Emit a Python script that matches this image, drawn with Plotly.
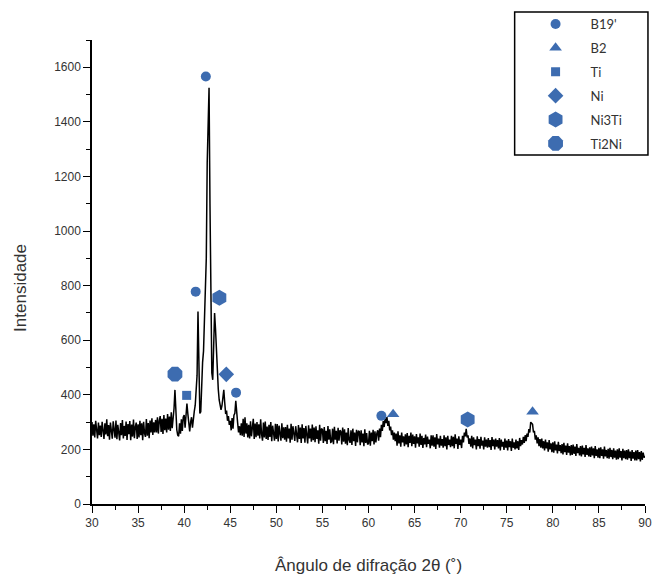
import numpy as np
import plotly.graph_objects as go

# 2-theta sampling grid (degrees), 0.1 deg step from 30 to 90
two_theta = np.round(np.linspace(30.0, 90.0, 601), 1)

# Intensity, one row per degree (x.0 ... x.9)
intensity = [
    300, 250, 292, 244, 305, 258, 240, 298, 252, 287,   # 30
    246, 301, 262, 238, 296, 255, 310, 248, 289, 236,   # 31
    298, 250, 239, 303, 265, 243, 306, 237, 290, 255,   # 32
    233, 297, 252, 308, 240, 286, 249, 302, 235, 293,   # 33
    256, 304, 234, 291, 247, 309, 241, 283, 298, 238,   # 34
    292, 244, 305, 252, 296, 234, 301, 259, 246, 311,   # 35
    250, 297, 241, 306, 262, 314, 253, 299, 262, 308,   # 36
    262, 318, 258, 305, 322, 264, 312, 257, 326, 270,   # 37
    313, 262, 330, 272, 320, 268, 336, 278, 310, 350,   # 38
    418, 330, 272, 252, 248, 296, 258, 310, 268, 318,   # 39
    326, 280, 345, 368, 330, 282, 266, 300, 318, 280,   # 40
    324, 340, 362, 415, 472, 705, 560, 332, 338, 470,   # 41
    520, 560, 680, 760, 900, 1250, 1440, 1525, 1100, 700,  # 42
    480, 455, 600, 700, 642, 558, 482, 421, 381, 362,   # 43
    345, 360, 390, 418, 372, 330, 342, 305, 322, 290,   # 44
    305, 270, 315, 276, 325, 332, 378, 318, 298, 262,   # 45
    285, 252, 296, 250, 312, 246, 318, 258, 296, 244,   # 46
    290, 240, 303, 248, 286, 312, 238, 295, 245, 300,   # 47
    250, 292, 240, 310, 255, 232, 298, 244, 302, 238,   # 48
    284, 235, 290, 246, 300, 230, 287, 252, 232, 294,   # 49
    238, 293, 229, 287, 250, 232, 296, 241, 281, 236,   # 50
    282, 228, 290, 240, 276, 225, 294, 236, 285, 246,   # 51
    231, 285, 243, 226, 289, 238, 280, 224, 292, 240,   # 52
    278, 225, 286, 235, 222, 288, 240, 276, 228, 291,   # 53
    234, 280, 226, 285, 238, 270, 221, 290, 232, 276,   # 54
    273, 224, 282, 230, 268, 220, 286, 236, 274, 226,   # 55
    228, 276, 219, 283, 236, 268, 222, 279, 232, 270,   # 56
    266, 218, 280, 228, 274, 221, 262, 215, 278, 234,   # 57
    224, 270, 216, 276, 230, 262, 213, 272, 226, 268,   # 58
    265, 215, 270, 226, 258, 212, 274, 224, 260, 218,   # 59
    222, 268, 214, 262, 230, 272, 218, 266, 226, 258,   # 60
    270, 232, 276, 245, 290, 268, 304, 282, 314, 296,   # 61
    318, 286, 305, 270, 284, 252, 270, 236, 262, 230,   # 62
    258, 214, 266, 222, 252, 210, 262, 226, 248, 212,   # 63
    255, 218, 260, 208, 250, 224, 262, 212, 254, 220,   # 64
    248, 206, 256, 222, 244, 210, 258, 216, 250, 205,   # 65
    242, 218, 254, 208, 247, 220, 236, 204, 252, 214,   # 66
    252, 210, 244, 202, 256, 218, 240, 206, 250, 214,   # 67
    238, 206, 252, 212, 244, 200, 250, 216, 236, 208,   # 68
    250, 212, 246, 204, 255, 220, 240, 202, 248, 216,   # 69
    236, 205, 250, 226, 262, 248, 275, 244, 252, 220,   # 70
    240, 210, 250, 204, 244, 216, 236, 200, 248, 212,   # 71
    238, 203, 246, 214, 232, 200, 244, 210, 236, 206,   # 72
    242, 208, 234, 198, 245, 212, 236, 200, 240, 210,   # 73
    234, 204, 242, 196, 236, 210, 228, 198, 240, 206,   # 74
    232, 196, 238, 208, 230, 194, 240, 206, 226, 200,   # 75
    236, 204, 230, 198, 242, 212, 234, 218, 246, 224,   # 76
    252, 230, 258, 246, 274, 262, 300, 296, 292, 262,   # 77
    268, 236, 252, 222, 244, 212, 238, 206, 240, 204,   # 78
    230, 196, 236, 204, 226, 192, 234, 200, 222, 190,   # 79
    226, 188, 230, 196, 218, 185, 228, 194, 216, 186,   # 80
    220, 182, 224, 190, 214, 180, 222, 188, 212, 178,   # 81
    216, 180, 218, 184, 210, 176, 220, 186, 206, 178,   # 82
    212, 174, 214, 182, 206, 172, 216, 180, 204, 174,   # 83
    208, 172, 210, 178, 204, 168, 212, 176, 200, 170,   # 84
    206, 168, 208, 176, 200, 166, 210, 174, 198, 168,   # 85
    202, 166, 206, 172, 198, 164, 204, 170, 196, 162,   # 86
    200, 164, 204, 170, 194, 160, 202, 168, 196, 164,   # 87
    198, 162, 200, 168, 192, 158, 198, 166, 190, 160,   # 88
    196, 160, 198, 164, 190, 156, 194, 162, 188, 170,   # 89
    176,                                                # 90
]

# Phase markers (position, height of the symbol)
b19_x = [42.35, 41.25, 45.63, 61.40]
b19_y = [1566, 778, 408, 323]
b2_x = [62.67, 77.80]
b2_y = [329, 338]
ti_x = [40.27]
ti_y = [398]
ni_x = [44.57]
ni_y = [475]
ni3ti_x = [43.82, 70.76]
ni3ti_y = [756, 310]
ti2ni_x = [39.00]
ti2ni_y = [476]

x_ticks = [30, 35, 40, 45, 50, 55, 60, 65, 70, 75, 80, 85, 90]
y_ticks = [0, 200, 400, 600, 800, 1000, 1200, 1400, 1600]

BLUE = "#3d6cb0"
W, H = 659, 579
L, R, T, B = 92, 7, 40, 75

fig = go.Figure()
fig.add_trace(go.Scatter(x=two_theta, y=intensity, mode="lines",
                         line=dict(color="black", width=1.5),
                         showlegend=False, hoverinfo="skip"))

phases = [
    ("B19'", b19_x, b19_y, "circle", 10),
    ("B2", b2_x, b2_y, "triangle-up", 11),
    ("Ti", ti_x, ti_y, "square", 9),
    ("Ni", ni_x, ni_y, "diamond", 12),
    ("Ni3Ti", ni3ti_x, ni3ti_y, "hexagon", 16),
    ("Ti2Ni", ti2ni_x, ti2ni_y, "octagon", 16),
]
for name, xs, ys, sym, sz in phases:
    fig.add_trace(go.Scatter(x=xs, y=ys, mode="markers", name=name,
                             legendgroup=name,
                             marker=dict(symbol=sym, size=sz, color=BLUE,
                                         line=dict(width=0))))

pw = W - L - R
ph = H - T - B
def px_x(p):
    return (p - L) / pw
def px_y(p):
    return (H - B - p) / ph

axis_font = dict(family="Liberation Sans, Arial", size=12, color="#333333")
fig.update_xaxes(range=[30, 90], tickvals=x_ticks, ticks="outside", ticklen=7,
                 tickwidth=1.3, tickcolor="black", showline=True,
                 linecolor="black", linewidth=1.5, showgrid=False,
                 zeroline=False, tickfont=axis_font,
                 minor=dict(dtick=2.5, tick0=30, ticks="outside", ticklen=4,
                            tickcolor="black", tickwidth=1.2, showgrid=False),
                 title=dict(text="Ângulo de difração 2θ (˚)",
                            font=dict(family="Liberation Sans, Arial", size=17,
                                      color="#333333"), standoff=30))
fig.update_yaxes(range=[0, 1700], tickvals=y_ticks, ticks="outside", ticklen=7,
                 tickwidth=1.3, tickcolor="black", showline=True,
                 linecolor="black", linewidth=1.5, showgrid=False,
                 zeroline=False, tickfont=axis_font,
                 minor=dict(dtick=100, tick0=0, ticks="outside", ticklen=4,
                            tickcolor="black", tickwidth=1.2, showgrid=False))

fig.add_annotation(text="Intensidade", xref="paper", yref="paper",
                   x=px_x(19), y=px_y(288), xanchor="center", yanchor="middle",
                   textangle=-90, showarrow=False,
                   font=dict(family="Liberation Sans, Arial", size=17,
                             color="#333333"))

# legend frame
fig.add_shape(type="rect", xref="paper", yref="paper",
              x0=px_x(520), x1=px_x(655), y0=px_y(155), y1=px_y(12),
              line=dict(color="black", width=1.5), fillcolor="rgba(0,0,0,0)")

fig.update_layout(
    width=W, height=H, margin=dict(l=L, r=R, t=T, b=B),
    plot_bgcolor="white", paper_bgcolor="white",
    legend=dict(x=px_x(526), y=px_y(9), xanchor="left", yanchor="top",
                bgcolor="rgba(0,0,0,0)", borderwidth=0, itemwidth=60,
                tracegroupgap=4,
                font=dict(family="Lato, Liberation Sans", size=13,
                          color="#333333")),
)

fig.write_html("out.html")
